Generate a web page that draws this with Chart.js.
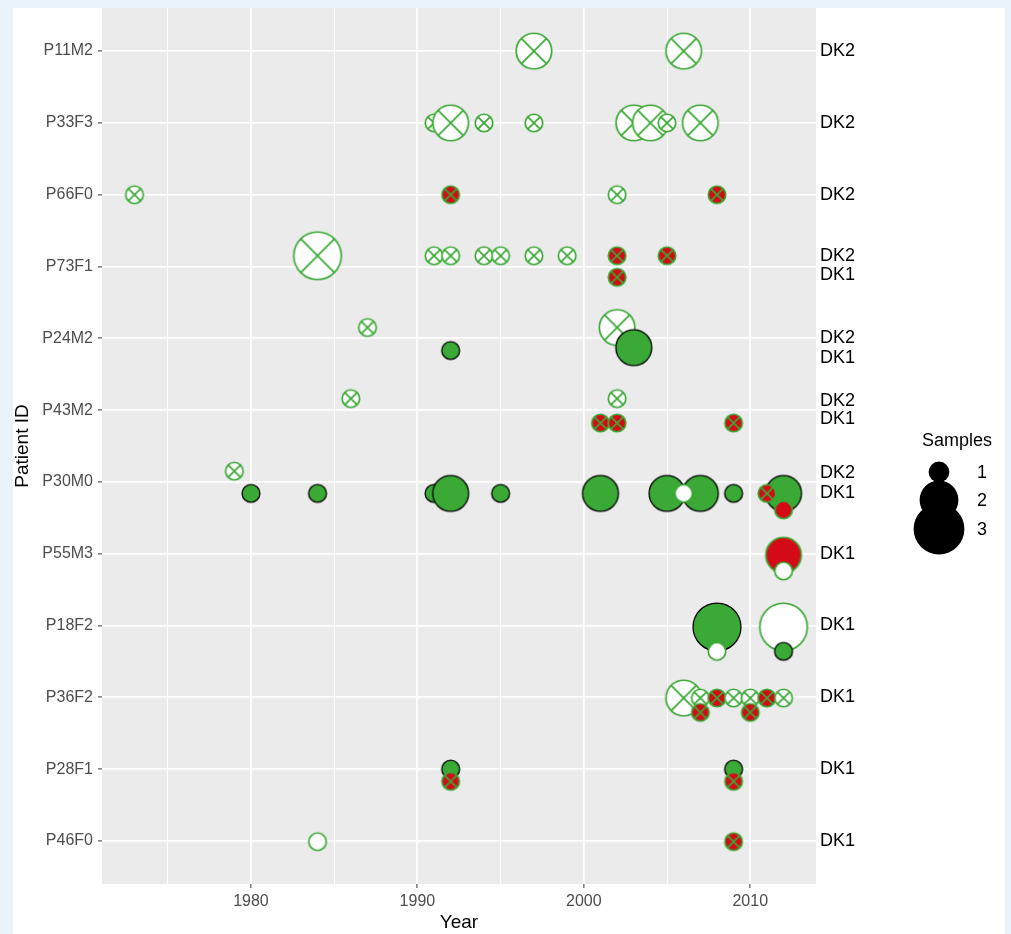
<!DOCTYPE html>
<html>
<head>
<meta charset="utf-8">
<script src="https://cdn.jsdelivr.net/npm/chart.js@4.4.1/dist/chart.umd.min.js"></script>
<style>
  html, body { margin: 0; padding: 0; background: #e8f4fa; overflow: hidden; }
  #panel { position: absolute; left: 13px; top: 8px; width: 992px; height: 940px; background: #ffffff; }
  #wrap { position: absolute; left: 0; top: 0; width: 992px; height: 926px; }
</style>
</head>
<body>
<div id="panel"><div id="wrap"><canvas id="chart"></canvas></div></div>
<script>
// patients, top to bottom
const patients = ['P11M2', 'P33F3', 'P66F0', 'P73F1', 'P24M2', 'P43M2', 'P30M0', 'P55M3', 'P18F2', 'P36F2', 'P28F1', 'P46F0'];

// one entry per sample point, in drawing order
const ptPatient = [
  'P11M2', 'P11M2',
  'P33F3', 'P33F3', 'P33F3', 'P33F3', 'P33F3', 'P33F3', 'P33F3', 'P33F3',
  'P66F0', 'P66F0', 'P66F0', 'P66F0',
  'P73F1', 'P73F1', 'P73F1', 'P73F1', 'P73F1', 'P73F1', 'P73F1', 'P73F1', 'P73F1', 'P73F1',
  'P24M2', 'P24M2', 'P24M2', 'P24M2',
  'P43M2', 'P43M2', 'P43M2', 'P43M2', 'P43M2',
  'P30M0', 'P30M0', 'P30M0', 'P30M0', 'P30M0', 'P30M0', 'P30M0', 'P30M0', 'P30M0', 'P30M0', 'P30M0', 'P30M0', 'P30M0', 'P30M0',
  'P55M3', 'P55M3',
  'P18F2', 'P18F2', 'P18F2', 'P18F2',
  'P36F2', 'P36F2', 'P36F2', 'P36F2', 'P36F2', 'P36F2', 'P36F2', 'P36F2', 'P36F2',
  'P28F1', 'P28F1', 'P28F1', 'P28F1',
  'P46F0', 'P46F0'
];
const ptYear = [
  1997, 2006,
  1991, 1992, 1994, 1997, 2003, 2004, 2005, 2007,
  1973, 1992, 2002, 2008,
  1984, 1991, 1992, 1994, 1995, 1997, 1999, 2002, 2005, 2002,
  1987, 2002, 1992, 2003,
  1986, 2002, 2001, 2002, 2009,
  1979, 1980, 1984, 1991, 1992, 1995, 2001, 2005, 2007, 2009, 2012, 2006, 2011, 2012,
  2012, 2012,
  2008, 2012, 2008, 2012,
  2006, 2007, 2008, 2009, 2010, 2011, 2012, 2007, 2010,
  1992, 2009, 1992, 2009,
  1984, 2009
];
// vertical dodge inside the patient row (row units, + is up)
const ptShift = [
  0, 0,
  0, 0, 0, 0, 0, 0, 0, 0,
  0, 0, 0, 0,
  0.15, 0.15, 0.15, 0.15, 0.15, 0.15, 0.15, 0.15, 0.15, -0.15,
  0.15, 0.15, -0.17, -0.13,
  0.16, 0.16, -0.18, -0.18, -0.18,
  0.15, -0.16, -0.16, -0.16, -0.16, -0.16, -0.16, -0.16, -0.16, -0.16, -0.16, -0.16, -0.16, -0.39,
  -0.02, -0.24,
  -0.02, -0.02, -0.36, -0.36,
  -0.01, -0.01, -0.01, -0.01, -0.01, -0.01, -0.01, -0.21, -0.21,
  0, 0, -0.17, -0.17,
  -0.01, -0.01
];
const ptSamples = [
  2, 2,
  1, 2, 1, 1, 2, 2, 1, 2,
  1, 1, 1, 1,
  3, 1, 1, 1, 1, 1, 1, 1, 1, 1,
  1, 2, 1, 2,
  1, 1, 1, 1, 1,
  1, 1, 1, 1, 2, 1, 2, 2, 2, 1, 2, 1, 1, 1,
  2, 1,
  3, 3, 1, 1,
  2, 1, 1, 1, 1, 1, 1, 1, 1,
  1, 1, 1, 1,
  1, 1
];
// openX = white crossed, redX = red crossed, green = green filled, open = white, red = red filled
const ptType = [
  'openX', 'openX',
  'openX', 'openX', 'openX', 'openX', 'openX', 'openX', 'openX', 'openX',
  'openX', 'redX', 'openX', 'redX',
  'openX', 'openX', 'openX', 'openX', 'openX', 'openX', 'openX', 'redX', 'redX', 'redX',
  'openX', 'openX', 'green', 'green',
  'openX', 'openX', 'redX', 'redX', 'redX',
  'openX', 'green', 'green', 'green', 'green', 'green', 'green', 'green', 'green', 'green', 'green', 'open', 'redX', 'red',
  'red', 'open',
  'green', 'open', 'open', 'green',
  'openX', 'openX', 'redX', 'openX', 'openX', 'redX', 'openX', 'redX', 'redX',
  'green', 'green', 'redX', 'redX',
  'open', 'redX'
];

// right side labels
const sidePatient = ['P11M2', 'P33F3', 'P66F0', 'P73F1', 'P73F1', 'P24M2', 'P24M2', 'P43M2', 'P43M2', 'P30M0', 'P30M0', 'P55M3', 'P18F2', 'P36F2', 'P28F1', 'P46F0'];
const sideLabel = ['DK2', 'DK2', 'DK2', 'DK2', 'DK1', 'DK2', 'DK1', 'DK2', 'DK1', 'DK2', 'DK1', 'DK1', 'DK1', 'DK1', 'DK1', 'DK1'];
const sideShift = [0, 0, 0, 0.14, -0.12, 0, -0.28, 0.12, -0.13, 0.12, -0.16, 0, 0, 0, 0, 0];

const yearTicks = [1975, 1980, 1985, 1990, 1995, 2000, 2005, 2010];
const legendSamples = [1, 2, 3];

const GREEN = '#3aa935';
const RED = '#d40b16';
const FONT = "'Liberation Sans', Arial, sans-serif";

const markerStyles = {
  openX: { fill: '#ffffff', stroke: GREEN, cross: true },
  redX: { fill: RED, stroke: GREEN, cross: true },
  green: { fill: GREEN, stroke: '#000000', cross: false },
  open: { fill: '#ffffff', stroke: GREEN, cross: false },
  red: { fill: RED, stroke: GREEN, cross: false }
};
const sizeRadius = { 1: 9.6, 2: 18.6, 3: 24.6 };

function makeMarker(style, r) {
  const c = document.createElement('canvas');
  const s = Math.ceil(2 * r + 4);
  c.width = s;
  c.height = s;
  const g = c.getContext('2d');
  const m = s / 2;
  const lw = style.stroke === '#000000' ? 1.3 : 1.7;
  const ri = r - lw / 2;
  g.beginPath();
  g.arc(m, m, ri, 0, Math.PI * 2);
  g.fillStyle = style.fill;
  g.fill();
  if (style.cross) {
    const d = ri * Math.SQRT1_2;
    g.beginPath();
    g.moveTo(m - d, m - d); g.lineTo(m + d, m + d);
    g.moveTo(m + d, m - d); g.lineTo(m - d, m + d);
    g.strokeStyle = style.stroke;
    g.lineWidth = 1.7;
    g.stroke();
  }
  g.beginPath();
  g.arc(m, m, ri, 0, Math.PI * 2);
  g.strokeStyle = style.stroke;
  g.lineWidth = lw;
  g.stroke();
  return c;
}

const markerCache = {};
function markerFor(type, samples) {
  const key = type + samples;
  if (!markerCache[key]) markerCache[key] = makeMarker(markerStyles[type], sizeRadius[samples]);
  return markerCache[key];
}

const rowOf = p => patients.length - 1 - patients.indexOf(p);

const points = ptYear.map((yr, i) => ({ x: yr, y: rowOf(ptPatient[i]) + ptShift[i] }));
const markers = ptType.map((t, i) => markerFor(t, ptSamples[i]));

const panelBg = {
  id: 'panelBg',
  beforeDraw(chart) {
    const { ctx, chartArea: a } = chart;
    ctx.save();
    ctx.fillStyle = '#ebebeb';
    ctx.fillRect(a.left, a.top, a.right - a.left, a.bottom - a.top);
    ctx.restore();
  }
};

const sizeLegend = {
  id: 'sizeLegend',
  afterDraw(chart) {
    const ctx = chart.ctx;
    const cx = 926, labelX = 969;
    const keyY = [464, 492, 521];
    ctx.save();
    ctx.fillStyle = '#000000';
    ctx.font = '18px ' + FONT;
    ctx.textAlign = 'center';
    ctx.textBaseline = 'middle';
    ctx.fillText('Samples', 944, 433);
    legendSamples.forEach((s, i) => {
      ctx.beginPath();
      ctx.arc(cx, keyY[i], sizeRadius[s] + 0.8, 0, Math.PI * 2);
      ctx.fill();
    });
    legendSamples.forEach((s, i) => {
      ctx.fillText(String(s), labelX, keyY[i] + 1);
    });
    ctx.restore();
  }
};

new Chart(document.getElementById('chart'), {
  type: 'scatter',
  data: {
    datasets: [{
      data: points,
      pointStyle: c => markers[c.dataIndex],
      pointRadius: c => sizeRadius[ptSamples[c.dataIndex]],
      pointHoverRadius: c => sizeRadius[ptSamples[c.dataIndex]],
      clip: false
    }]
  },
  options: {
    animation: false,
    responsive: true,
    maintainAspectRatio: false,
    events: [],
    layout: { autoPadding: false, padding: { top: 0, right: 129, bottom: 0, left: 0 } },
    plugins: { legend: { display: false }, tooltip: { enabled: false } },
    scales: {
      x: {
        type: 'linear',
        min: 1971.05,
        max: 2013.95,
        afterBuildTicks: axis => { axis.ticks = yearTicks.map(v => ({ value: v })); },
        afterFit: axis => { axis.height = 50; axis.paddingLeft = 0; axis.paddingRight = 0; },
        border: { display: false },
        grid: {
          color: '#ffffff',
          lineWidth: c => (c.tick && c.tick.value % 10 === 0) ? 1.8 : 0.9,
          tickColor: c => (c.tick && c.tick.value % 10 === 0) ? '#333333' : 'rgba(0,0,0,0)',
          tickLength: 4,
          tickWidth: 1
        },
        ticks: {
          autoSkip: false,
          maxRotation: 0,
          padding: 4,
          color: '#4d4d4d',
          font: { family: FONT, size: 16 },
          callback: v => (v % 10 === 0 ? String(v) : '')
        },
        title: {
          display: true,
          text: 'Year',
          color: '#000000',
          font: { family: FONT, size: 19, lineHeight: 1 },
          padding: { top: 0, bottom: 1.5 }
        }
      },
      y: {
        type: 'linear',
        position: 'left',
        min: -0.6,
        max: patients.length - 0.4,
        afterBuildTicks: axis => { axis.ticks = patients.map((p, i) => ({ value: i })); },
        afterFit: axis => { axis.width = 89; axis.paddingTop = 0; axis.paddingBottom = 0; },
        border: { display: false },
        grid: { color: '#ffffff', lineWidth: 1.8, tickColor: '#333333', tickLength: 4, tickWidth: 1 },
        ticks: {
          autoSkip: false,
          padding: 5,
          color: '#4d4d4d',
          font: { family: FONT, size: 16 },
          callback: v => patients[patients.length - 1 - v]
        },
        title: {
          display: true,
          text: 'Patient ID',
          color: '#000000',
          font: { family: FONT, size: 19, lineHeight: 1 },
          padding: { top: 0, bottom: 0 }
        }
      },
      yr: {
        type: 'linear',
        position: 'right',
        min: -0.6,
        max: patients.length - 0.4,
        afterBuildTicks: axis => {
          axis.ticks = sideLabel.map((t, i) => ({ value: rowOf(sidePatient[i]) + sideShift[i] }));
        },
        afterFit: axis => { axis.width = 60; axis.paddingTop = 0; axis.paddingBottom = 0; },
        border: { display: false },
        grid: { display: false, drawTicks: false },
        ticks: {
          autoSkip: false,
          padding: 4,
          color: '#000000',
          font: { family: FONT, size: 18 },
          callback: (v, i) => sideLabel[i]
        }
      }
    }
  },
  plugins: [panelBg, sizeLegend]
});
</script>
</body>
</html>
